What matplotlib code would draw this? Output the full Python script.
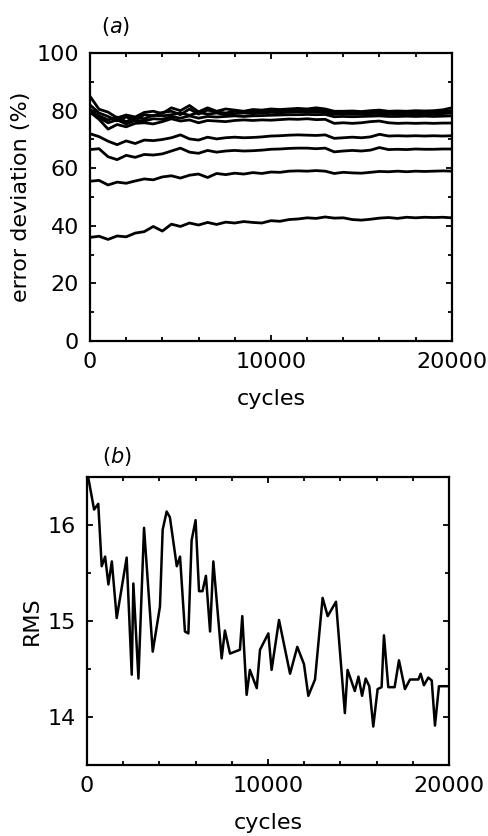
import numpy as np
import matplotlib
matplotlib.use("Agg")
import matplotlib.pyplot as plt
from matplotlib.ticker import MultipleLocator

# (a) error deviation curves, read every 500 cycles
cycles_a = np.arange(0, 20001, 500)

dev_1 = [85.0, 80.5, 79.5, 77.5, 78.5, 77.8, 79.4, 79.8, 79.0, 81.0, 80.0,
         81.8, 79.6, 81.0, 79.8, 80.6, 80.2, 79.8, 80.4, 80.2, 80.6, 80.4,
         80.6, 80.8, 80.6, 81.0, 80.6, 79.8, 79.8, 79.9, 79.7, 80.0, 80.2,
         79.8, 79.9, 79.8, 80.0, 79.9, 80.0, 80.3, 81.0]
dev_2 = [82.0, 79.2, 78.0, 76.5, 77.8, 76.8, 78.6, 78.2, 79.4, 79.8, 78.6,
         80.6, 78.8, 80.2, 79.6, 79.2, 79.8, 79.6, 79.8, 79.6, 80.0, 80.0,
         80.2, 80.0, 80.4, 80.2, 80.0, 79.4, 79.4, 79.2, 79.4, 79.6, 79.4,
         79.4, 79.5, 79.4, 79.5, 79.4, 79.6, 79.7, 80.0]
dev_3 = [80.5, 78.2, 76.8, 77.8, 76.2, 77.6, 77.2, 78.4, 78.2, 78.6, 79.2,
         78.4, 79.4, 78.8, 79.2, 78.6, 79.0, 79.2, 79.0, 79.2, 79.4, 79.3,
         79.5, 79.6, 79.6, 79.5, 79.4, 78.8, 78.9, 78.8, 78.9, 79.0, 79.0,
         78.8, 78.9, 78.8, 78.9, 78.8, 78.9, 79.0, 79.2]
dev_4 = [80.0, 77.6, 75.8, 76.8, 75.4, 76.6, 76.4, 77.2, 77.0, 78.0, 77.4,
         78.2, 77.4, 78.0, 77.8, 78.0, 78.2, 78.0, 78.2, 78.3, 78.4, 78.5,
         78.6, 78.6, 78.7, 78.6, 78.7, 77.9, 78.0, 77.9, 78.0, 78.1, 78.2,
         78.0, 78.0, 78.1, 78.0, 78.1, 78.0, 78.1, 78.2]
dev_5 = [79.5, 77.0, 73.6, 75.2, 74.4, 75.6, 75.8, 75.4, 76.2, 77.2, 76.4,
         76.8, 75.8, 76.6, 76.4, 76.2, 76.6, 76.8, 76.6, 76.8, 76.7, 76.9,
         77.1, 77.0, 77.2, 76.9, 77.0, 75.6, 75.8, 75.6, 75.8, 76.2, 76.4,
         75.8, 75.6, 75.7, 75.6, 75.7, 75.6, 75.7, 75.7]
dev_6 = [72.0, 71.0, 69.4, 68.2, 69.5, 68.6, 69.8, 69.6, 70.0, 70.6, 71.6,
         70.2, 69.8, 70.8, 70.2, 70.6, 70.8, 70.6, 70.7, 70.9, 71.2, 71.3,
         71.5, 71.6, 71.5, 71.4, 71.6, 70.4, 70.6, 70.8, 70.6, 70.9, 71.8,
         71.2, 71.3, 71.2, 71.3, 71.2, 71.3, 71.2, 71.3]
dev_7 = [66.5, 66.8, 64.0, 63.0, 64.5, 63.8, 64.8, 64.6, 65.0, 66.0, 67.0,
         65.6, 65.2, 66.2, 65.6, 66.0, 66.2, 66.0, 66.1, 66.3, 66.6, 66.7,
         66.9, 67.0, 67.0, 66.8, 67.0, 65.7, 66.0, 66.2, 66.0, 66.3, 67.2,
         66.5, 66.6, 66.5, 66.7, 66.6, 66.6, 66.7, 66.7]
dev_8 = [55.5, 55.8, 54.2, 55.2, 54.8, 55.6, 56.3, 56.0, 57.0, 57.4, 56.6,
         57.6, 58.0, 56.8, 58.2, 57.8, 58.3, 58.0, 58.5, 58.2, 58.7, 58.6,
         59.0, 59.1, 59.0, 59.2, 59.0, 58.2, 58.6, 58.4, 58.3, 58.6, 58.9,
         58.8, 59.0, 58.8, 59.0, 58.9, 59.0, 59.1, 59.0]
dev_9 = [36.0, 36.4, 35.3, 36.5, 36.2, 37.5, 38.0, 39.8, 38.2, 40.6, 39.8,
         41.0, 40.3, 41.2, 40.5, 41.3, 41.0, 41.5, 41.2, 41.0, 41.8, 41.6,
         42.2, 42.4, 42.8, 42.6, 43.1, 42.7, 42.8, 42.2, 42.0, 42.3, 42.7,
         42.9, 42.6, 43.0, 42.8, 43.0, 42.9, 43.0, 42.8]

# (b) RMS
cycles_b = [0, 70, 390, 620, 810, 1000, 1180, 1370, 1640, 2190, 2470, 2560,
            2840, 3150, 3630, 4030, 4180, 4400, 4580, 4960, 5140, 5410, 5600,
            5780, 6000, 6190, 6380, 6570, 6800, 6980, 7440, 7620, 7900, 8450,
            8580, 8820, 9000, 9380, 9560, 10020, 10200, 10610, 11220, 11620,
            11990, 12230, 12600, 13020, 13300, 13760, 14250, 14400, 14800,
            15000, 15200, 15400, 15600, 15820, 16060, 16280, 16410, 16650,
            17000, 17240, 17570, 17850, 18310, 18440, 18620, 18860, 19050,
            19230, 19450, 20000]
rms = [16.5, 16.49, 16.16, 16.22, 15.57, 15.67, 15.38, 15.62, 15.03, 15.66,
       14.44, 15.39, 14.40, 15.97, 14.68, 15.15, 15.95, 16.14, 16.08, 15.57,
       15.67, 14.89, 14.87, 15.84, 16.05, 15.31, 15.31, 15.47, 14.89, 15.62,
       14.61, 14.90, 14.66, 14.70, 15.05, 14.23, 14.49, 14.30, 14.70, 14.87,
       14.49, 15.01, 14.45, 14.73, 14.55, 14.22, 14.39, 15.24, 15.05, 15.20,
       14.04, 14.49, 14.27, 14.42, 14.22, 14.40, 14.32, 13.90, 14.29, 14.31,
       14.85, 14.31, 14.31, 14.59, 14.29, 14.39, 14.39, 14.45, 14.33, 14.41,
       14.38, 13.91, 14.32, 14.32]

plt.rcParams['font.family'] = ['DejaVu Sans']

fig = plt.figure(figsize=(4.89, 8.36), dpi=100)
ax1 = fig.add_axes([0.184, 0.592, 0.740, 0.3445])
ax2 = fig.add_axes([0.178, 0.085, 0.740, 0.3445])

for d in [dev_1, dev_2, dev_3, dev_4, dev_5, dev_6, dev_7, dev_8, dev_9]:
    ax1.plot(cycles_a, d, color='black', lw=2.0)
ax1.set_xlim(0, 20000)
ax1.set_ylim(0, 100)
ax1.set_xticks([0, 10000, 20000])
ax1.set_yticks([0, 20, 40, 60, 80, 100])
ax1.yaxis.set_minor_locator(MultipleLocator(10))
ax1.set_xlabel('cycles', fontsize=16, labelpad=12)
ax1.set_ylabel('error deviation (%)', fontsize=16, labelpad=4)
ax1.text(0.03, 1.07, r'($\it{a}$)', transform=ax1.transAxes, fontsize=15)

ax2.plot(cycles_b, rms, color='black', lw=1.8)
ax2.set_xlim(0, 20000)
ax2.set_ylim(13.5, 16.5)
ax2.set_xticks([0, 10000, 20000])
ax2.set_yticks([14, 15, 16])
ax2.yaxis.set_minor_locator(MultipleLocator(0.5))
ax2.set_xlabel('cycles', fontsize=16, labelpad=12)
ax2.set_ylabel('RMS', fontsize=16, labelpad=4)
ax2.text(0.04, 1.05, r'($\it{b}$)', transform=ax2.transAxes, fontsize=15)

for ax in (ax1, ax2):
    ax.xaxis.set_minor_locator(MultipleLocator(2000))
    ax.tick_params(which='both', direction='in', top=True, right=True,
                   labelsize=16, width=1.3)
    ax.tick_params(which='major', length=4, pad=8)
    ax.tick_params(which='minor', length=3)
    for s in ax.spines.values():
        s.set_linewidth(1.6)

fig.savefig('out.png', dpi=100)
